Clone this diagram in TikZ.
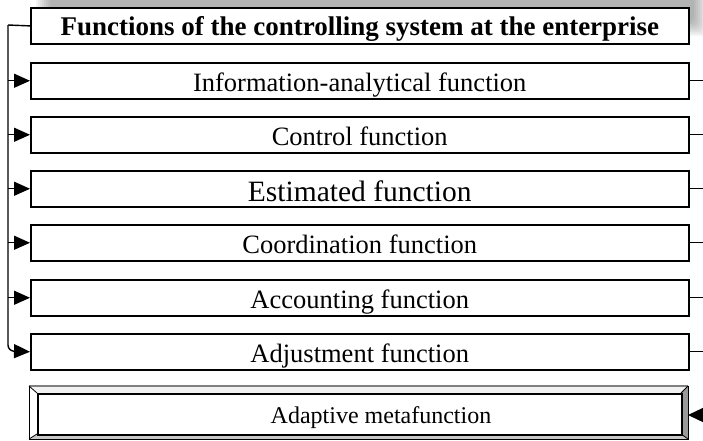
\documentclass[tikz,border=0pt]{standalone}
\usepackage{fontspec}
\setmainfont{Liberation Serif}
\usetikzlibrary{arrows.meta}
\definecolor{bevR}{HTML}{9A9A9A}
\definecolor{bevB}{HTML}{C8C8C8}
\definecolor{bevT}{HTML}{F2F2F2}
\begin{document}
\begin{tikzpicture}[x=1pt,y=-1pt,
  fbox/.style={draw=black, line width=1.5pt, fill=white, minimum width=658pt,
    minimum height=36pt, inner sep=0pt, text height=21pt, text depth=0pt,
    font=\fontsize{26.5}{30}\selectfont, anchor=north west},
  conn/.style={line width=1.4pt},
  arr/.style={conn, -{Triangle[length=16pt,width=14pt]}},
]
\useasboundingbox (0,0) rectangle (703,440);
% blurred shadow behind the title box
\foreach \i in {0,...,7}
  \fill[black, opacity=0.045, rounded corners=6pt] (36+2*\i,-20) rectangle (708-2*\i,36-2*\i);

\node[fbox, line width=1.8pt, text height=20pt, font=\bfseries\fontsize{27}{31}\selectfont] (t) at (30,7)
  {Functions of the controlling system at the enterprise};
\node[fbox] (f1) at (30,62)  {Information-analytical function};
\node[fbox] (f2) at (30,116) {Control function};
\node[fbox, text height=25pt, font=\fontsize{29.5}{33}\selectfont] (f3) at (30,170) {Estimated function};
\node[fbox] (f4) at (30,224) {Coordination function};
\node[fbox] (f5) at (30,279) {Accounting function};
\node[fbox] (f6) at (30,333) {Adjustment function};

% left bus
\coordinate (bt) at (8,25);
\coordinate (bb) at (8,351);
\draw[conn] (t.west) -- (bt);
\draw[arr, rounded corners=6pt] (bt) -- (bb) -- (f6.west);
\foreach \n in {f1,f2,f3,f4,f5}
  \draw[arr] (\n.west -| bt) -- (\n.west);

% right stubs
\coordinate (rx) at (703,0);
\foreach \n in {f1,f2,f3,f4,f5,f6}
  \draw[conn] (\n.east) -- (\n.east -| rx);

% adaptive metafunction (bevelled box)
\coordinate (oNW) at (29,386);
\coordinate (oNE) at (688,386);
\coordinate (oSE) at (688,439);
\coordinate (oSW) at (29,439);
\coordinate (iNW) at (37,393);
\coordinate (iNE) at (681,393);
\coordinate (iSE) at (681,434);
\coordinate (iSW) at (37,434);
\fill[bevT] (oNW) -- (oNE) -- (iNE) -- (iNW) -- cycle;
\fill[bevR] (oNE) -- (oSE) -- (iSE) -- (iNE) -- cycle;
\fill[bevB] (oSW) -- (oSE) -- (iSE) -- (iSW) -- cycle;
\fill[white] (oNW) -- (oSW) -- (iSW) -- (iNW) -- cycle;
\draw[line width=1pt] (oNE) -- (oSE) -- (oSW) -- (oNW);
\draw[line width=1.4pt, gray] (oNW) -- (oNE);
\draw[line width=0.8pt] (oNW) -- (iNW) (oNE) -- (iNE) (oSE) -- (iSE) (oSW) -- (iSW);
\node[draw=black, line width=1.6pt, fill=white, minimum width=644pt, minimum height=41pt,
  inner sep=0pt, anchor=north west] (ad) at (iNW) {};
\node[anchor=base, inner sep=0pt, font=\fontsize{24}{28}\selectfont] (adt) at (381,423)
  {Adaptive metafunction};
\coordinate (ar) at (703,415);
\draw[conn, -{Triangle[length=15pt,width=14pt]}] (ar) -- (ar -| oSE);
\end{tikzpicture}
\end{document}
